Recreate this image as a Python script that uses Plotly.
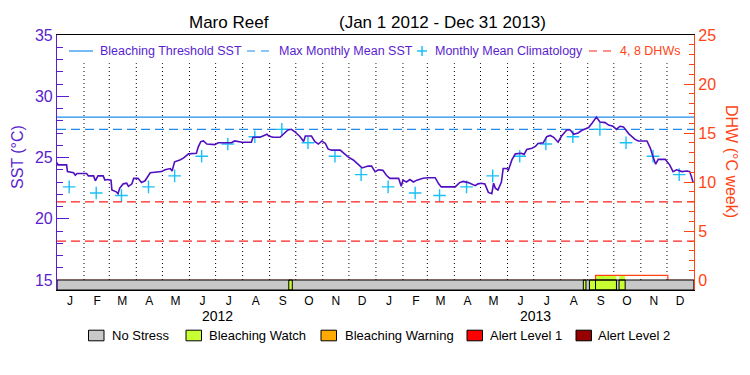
import numpy as np
import pandas as pd
import plotly.graph_objects as go

# ---------------- data ----------------
START = pd.Timestamp("2012-01-01")
END = pd.Timestamp("2014-01-01")

# daily SST: day offset from 2012-01-01 and value (deg C)
sst_day = [0, 1, 11, 12, 19, 21, 23, 34, 36, 42, 44, 47, 53, 55, 58, 62, 63, 68, 70, 72,
           76, 80, 82, 86, 88, 93, 97, 101, 107, 120, 124, 130, 132, 135, 141, 145, 151, 160,
           162, 165, 168, 172, 181, 185, 193, 200, 204, 208, 212, 223, 225, 233, 237, 241,
           243, 248, 256, 262, 265, 269, 273, 279, 283, 285, 292, 296, 300, 304, 308, 311,
           315, 325, 331, 334, 340, 346, 350, 357, 361, 365, 369, 374, 378, 382, 392, 395,
           397, 401, 405, 409, 413, 420, 426, 434, 438, 441, 457, 462, 466, 472, 480, 483,
           487, 491, 495, 499, 501, 503, 506, 510, 512, 516, 518, 522, 526, 533, 536, 539,
           545, 549, 552, 558, 562, 566, 570, 575, 579, 585, 589, 593, 598, 602, 606, 610,
           614, 617, 619, 623, 629, 633, 638, 642, 646, 650, 656, 663, 667, 677, 681, 684,
           687, 690, 698, 703, 707, 711, 717, 723, 726, 728, 730]
sst_val = [24.6, 24.4, 24.4, 23.85, 23.75, 23.55, 23.7, 23.7, 23.5, 23.5, 23.1, 23.5, 23.5,
           23.15, 23.2, 23.15, 22.35, 22.2, 22.05, 22.5, 22.85, 22.9, 22.65, 22.85, 23.3, 23.3,
           22.95, 23.1, 23.75, 23.85, 24.0, 24.1, 23.9, 24.65, 24.8, 24.95, 25.3, 25.35, 25.85,
           26.3, 26.35, 26.1, 26.05, 26.2, 26.2, 26.2, 26.35, 26.3, 26.25, 26.25, 26.65, 26.65,
           26.75, 26.9, 26.75, 26.65, 26.65, 27.0, 27.25, 27.3, 27.1, 26.7, 26.3, 26.75, 26.75,
           26.3, 26.1, 26.35, 26.15, 25.7, 25.6, 25.6, 25.2, 25.05, 24.8, 24.4, 24.15, 24.3,
           24.3, 23.85, 24.0, 23.95, 23.55, 23.3, 23.3, 22.65, 23.15, 23.0, 23.2, 23.0, 23.15,
           23.3, 23.35, 23.35, 22.85, 22.6, 22.6, 22.95, 23.05, 22.95, 22.7, 22.85, 22.9, 22.85,
           22.15, 22.05, 22.9, 22.5, 22.35, 23.0, 24.1, 24.1, 23.95, 24.8, 25.3, 25.35, 25.25,
           25.65, 25.75, 25.9, 26.15, 26.2, 26.7, 26.8, 26.65, 26.25, 26.75, 27.25, 27.25, 26.9,
           27.0, 27.2, 27.3, 27.45, 27.8, 28.15, 28.3, 27.9, 27.85, 27.65, 27.55, 27.3, 27.55,
           27.5, 26.95, 26.5, 26.35, 26.35, 25.75, 25.05, 24.45, 24.85, 24.85, 24.4, 23.85,
           24.0, 23.85, 23.9, 23.85, 23.45, 22.95]

# monthly mean climatology (Jan..Dec)
clim_vals = [22.6, 22.1, 21.9, 22.6, 23.5, 25.1, 26.1, 26.7, 27.3, 26.2, 25.1, 23.6]
years = [2012, 2013]
month_letters = ["J", "F", "M", "A", "M", "J", "J", "A", "S", "O", "N", "D"]

mmm = 27.3          # max monthly mean SST
threshold = 28.3    # bleaching threshold SST
dhw_levels = [4, 8]

# degree heating weeks (step series)
dhw_dates = ["2012-01-01", "2013-09-10", "2013-12-02", "2013-12-31"]
dhw_vals = [0.0, 0.5, 0.0, 0.0]

# stress periods
stress_start = ["2012-09-23", "2013-08-27", "2013-09-03", "2013-09-10", "2013-10-07"]
stress_end = ["2012-09-27", "2013-08-30", "2013-09-10", "2013-10-04", "2013-10-14"]
stress_level = ["Bleaching Watch"] * 5

stress_names = ["No Stress", "Bleaching Watch", "Bleaching Warning", "Alert Level 1", "Alert Level 2"]
stress_colors = ["#c8c8c8", "#c8ff32", "#ffaa00", "#ff0000", "#960000"]

# ---------------- styles ----------------
FONT = "Liberation Sans"
PURPLE = "#5a1ecf"
LINE_PURPLE = "#5010c0"
ORANGE = "#ff4414"
BLUE = "#1e8cf0"
CYAN = "#18c0f8"
RED = "#ff2020"

Y_LO, Y_HI = 14.184, 35.0
Y2_LO, Y2_HI = -0.99, 25.0

L, R, T, B = 57, 694, 35, 290


def px(xp):
    return (xp - L) / (R - L)


def py(yp):
    return (B - yp) / (B - T)


fig = go.Figure()

# reference lines
fig.add_trace(go.Scatter(x=[START, END], y=[threshold, threshold], mode="lines",
                         line=dict(color=BLUE, width=1.2), showlegend=False, hoverinfo="skip"))
fig.add_trace(go.Scatter(x=[START, END], y=[mmm, mmm], mode="lines",
                         line=dict(color=BLUE, width=1.2, dash="9px,5px"), showlegend=False,
                         hoverinfo="skip"))
for lv in dhw_levels:
    fig.add_trace(go.Scatter(x=[START, END], y=[lv, lv], mode="lines", yaxis="y2",
                             line=dict(color=RED, width=1.2, dash="9px,5px"), showlegend=False,
                             hoverinfo="skip"))

# DHW area fills coloured by stress level
dhw_dt = pd.to_datetime(dhw_dates)
for s, e, lvl in zip(stress_start, stress_end, stress_level):
    sd = pd.Timestamp(s)
    idx = np.searchsorted(dhw_dt.values, np.datetime64(sd), side="right") - 1
    v = dhw_vals[idx]
    if v > 0:
        fig.add_trace(go.Scatter(x=[sd, pd.Timestamp(e)], y=[v, v], yaxis="y2", mode="lines",
                                 fill="tozeroy", fillcolor=stress_colors[stress_names.index(lvl)],
                                 line=dict(width=0), showlegend=False, hoverinfo="skip"))

# DHW line
fig.add_trace(go.Scatter(x=dhw_dt, y=dhw_vals, yaxis="y2", mode="lines", line_shape="hv",
                         line=dict(color=ORANGE, width=1.2), showlegend=False))

# climatology
clim_x = [pd.Timestamp(year=y, month=m + 1, day=15) for y in years for m in range(12)]
clim_y = [clim_vals[m] for y in years for m in range(12)]
fig.add_trace(go.Scatter(x=clim_x, y=clim_y, mode="markers",
                         marker=dict(symbol="cross-thin", size=9, line=dict(color=CYAN, width=1.4)),
                         showlegend=False))

# SST
sst_x = START + pd.to_timedelta(sst_day, unit="D")
fig.add_trace(go.Scatter(x=sst_x, y=sst_val, mode="lines",
                         line=dict(color=LINE_PURPLE, width=1.6), showlegend=False))

shapes = []
# month dotted separators
for d in pd.date_range("2012-02-01", "2013-12-01", freq="MS"):
    shapes.append(dict(type="line", xref="x", yref="y", x0=d, x1=d, y0=15, y1=32.7,
                       line=dict(color="black", width=1, dash="1px,3px"), layer="below"))

# stress bar
shapes.append(dict(type="rect", xref="x", yref="y", x0=START, x1=END, y0=Y_LO, y1=15,
                   fillcolor=stress_colors[0], line=dict(width=0), layer="above"))
for s, e, lvl in zip(stress_start, stress_end, stress_level):
    shapes.append(dict(type="rect", xref="x", yref="y", x0=s, x1=e, y0=Y_LO, y1=15,
                       fillcolor=stress_colors[stress_names.index(lvl)],
                       line=dict(color="black", width=1), layer="above"))
shapes.append(dict(type="rect", xref="x", yref="y", x0=START, x1=END, y0=Y_LO, y1=15,
                   fillcolor="rgba(0,0,0,0)", line=dict(color="black", width=1.2), layer="above"))

annotations = []
# top legend
LY = 51
shapes.append(dict(type="line", xref="paper", yref="paper", x0=px(69), x1=px(93), y0=py(LY), y1=py(LY),
                   line=dict(color=BLUE, width=1.2)))
shapes.append(dict(type="line", xref="paper", yref="paper", x0=px(247), x1=px(269), y0=py(LY), y1=py(LY),
                   line=dict(color=BLUE, width=1.2, dash="8px,6px")))
shapes.append(dict(type="line", xref="paper", yref="paper", x0=px(417), x1=px(427), y0=py(LY), y1=py(LY),
                   line=dict(color=CYAN, width=1.5)))
shapes.append(dict(type="line", xref="paper", yref="paper", x0=px(422), x1=px(422), y0=py(LY - 5), y1=py(LY + 5),
                   line=dict(color=CYAN, width=1.5)))
shapes.append(dict(type="line", xref="paper", yref="paper", x0=px(589), x1=px(612), y0=py(LY), y1=py(LY),
                   line=dict(color=RED, width=1.2, dash="8px,6px")))
for xp, txt, col in [(98, "Bleaching Threshold SST", PURPLE), (277, "Max Monthly Mean SST", PURPLE),
                     (433, "Monthly Mean Climatology", PURPLE), (618, "4, 8 DHWs", ORANGE)]:
    annotations.append(dict(xref="paper", yref="paper", x=px(xp), y=py(LY), text=txt, showarrow=False,
                            xanchor="left", yanchor="middle", font=dict(family=FONT, size=12.5, color=col)))

# bottom legend
BY = 335.5
for (x0, tx), name, col in zip([(88.5, 110), (186, 207), (321, 342.5), (467, 488), (576, 596)],
                               stress_names, stress_colors):
    shapes.append(dict(type="rect", xref="paper", yref="paper", x0=px(x0), x1=px(x0 + 15.5),
                       y0=py(BY + 5.3), y1=py(BY - 5.3), fillcolor=col, line=dict(color="black", width=1)))
    annotations.append(dict(xref="paper", yref="paper", x=px(tx), y=py(BY), text=name, showarrow=False,
                            xanchor="left", yanchor="middle", font=dict(family=FONT, size=13, color="black")))

# year labels
for y in years:
    annotations.append(dict(xref="x", yref="paper", x=pd.Timestamp(year=y, month=7, day=3), y=py(316),
                            text=str(y), showarrow=False, yanchor="middle",
                            font=dict(family=FONT, size=14, color="black")))

# titles
annotations.append(dict(xref="paper", yref="paper", x=px(229), y=py(23), text="Maro Reef", showarrow=False,
                        xanchor="center", yanchor="middle", font=dict(family=FONT, size=17, color="black")))
annotations.append(dict(xref="paper", yref="paper", x=px(442), y=py(23), text="(Jan 1 2012 - Dec 31 2013)",
                        showarrow=False, xanchor="center", yanchor="middle",
                        font=dict(family=FONT, size=17, color="black")))
annotations.append(dict(xref="paper", yref="paper", x=px(17), y=py(157), text="SST (°C)", showarrow=False,
                        textangle=-90, xanchor="center", yanchor="middle",
                        font=dict(family=FONT, size=16, color=PURPLE)))
annotations.append(dict(xref="paper", yref="paper", x=px(732), y=py(161), text="DHW (°C week)", showarrow=False,
                        textangle=90, xanchor="center", yanchor="middle",
                        font=dict(family=FONT, size=16, color=ORANGE)))

mid_months = [pd.Timestamp(year=y, month=m + 1, day=16) for y in years for m in range(12)]

fig.update_layout(
    width=750, height=375,
    margin=dict(l=L, r=750 - R, t=T, b=375 - B),
    paper_bgcolor="white", plot_bgcolor="white",
    showlegend=False,
    font=dict(family=FONT),
    xaxis=dict(range=[START, END], tickvals=mid_months, ticktext=month_letters * 2, ticks="",
               showgrid=False, zeroline=False, showline=True, mirror=True, linecolor="black",
               linewidth=1, tickfont=dict(family=FONT, size=12, color="black")),
    yaxis=dict(range=[Y_LO, Y_HI], tickvals=[15, 20, 25, 30, 35], ticks="inside", ticklen=12,
               tickcolor=PURPLE, tickwidth=1.2, showgrid=False, zeroline=False, showline=True,
               linecolor=PURPLE, linewidth=1.2, tickfont=dict(family=FONT, size=16, color=PURPLE),
               minor=dict(tick0=15, dtick=1, ticks="inside", ticklen=6, tickcolor=PURPLE, tickwidth=1.2,
                          showgrid=False)),
    yaxis2=dict(range=[Y2_LO, Y2_HI], overlaying="y", side="right", tickvals=[0, 5, 10, 15, 20, 25],
                ticks="inside", ticklen=10, tickcolor=ORANGE, tickwidth=1.2, showgrid=False,
                zeroline=False, showline=True, linecolor=ORANGE, linewidth=1.2,
                tickfont=dict(family=FONT, size=16, color=ORANGE),
                minor=dict(tick0=0, dtick=1, ticks="inside", ticklen=5, tickcolor=ORANGE, tickwidth=1.2,
                           showgrid=False)),
    shapes=shapes,
    annotations=annotations,
)

fig.write_html("out.html", config={"displayModeBar": False},
               post_script="document.body.style.margin='0';document.body.style.padding='0';")
